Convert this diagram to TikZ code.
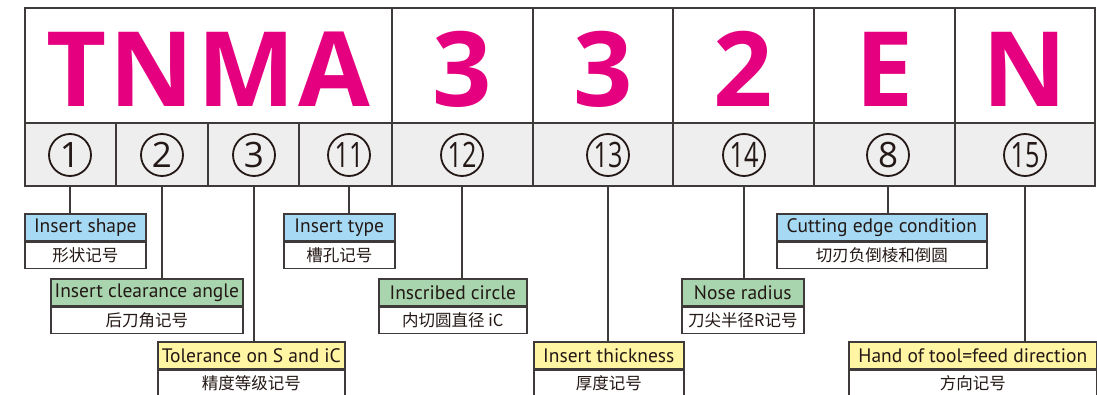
\documentclass[tikz,border=0pt]{standalone}
\usepackage{graphicx}
\usepackage{fontspec}
\usepackage{tikz}
\setmainfont{PT Sans}
\newfontfamily\codefont[LetterSpace=3]{Open Sans}
\newfontfamily\numfont{Open Sans}
\newfontfamily\cjk{Noto Sans CJK SC}
\usetikzlibrary{arrows.meta}

\definecolor{codepink}{RGB}{228,0,127}
\definecolor{cellgray}{RGB}{238,238,238}
\definecolor{linegray}{RGB}{62,58,57}
\definecolor{inkdark}{RGB}{35,24,21}
\definecolor{hdblue}{RGB}{166,218,244}
\definecolor{hdgreen}{RGB}{168,213,174}
\definecolor{hdyellow}{RGB}{255,245,163}

\begin{document}
\begin{tikzpicture}[x=1pt, y=-1pt,
    topcell/.style={draw=linegray, line width=1.7pt, minimum height=115pt, inner sep=0pt,
        text=codepink, font=\codefont\bfseries\fontsize{104}{104}\selectfont,
        text height=83pt, text depth=0pt},
    numcell/.style={draw=linegray, line width=1.7pt, fill=cellgray, minimum height=63pt, inner sep=0pt},
    numring/.style={circle, draw=inkdark, line width=1.8pt, minimum size=42pt, inner sep=0pt,
        text=inkdark, font=\numfont\fontsize{35}{35}\selectfont},
    head/.style={draw=linegray, line width=1.6pt, minimum height=27pt, inner sep=0pt,
        anchor=north west, text=inkdark, font=\fontsize{19.5}{19.5}\selectfont},
    body/.style={draw=linegray, line width=1.6pt, fill=white, minimum height=26pt, inner sep=0pt,
        anchor=north, text=inkdark, font=\cjk\fontsize{16.5}{16.5}\selectfont},
    wire/.style={draw=linegray, line width=1.3pt}]
    \useasboundingbox (0,0) rectangle (1097,395);

    % code letters
    \node[topcell, minimum width=367pt] (tnma) at (208.5,65.5) {TNMA};
    \node[topcell, minimum width=141pt] (l5) at (462.5,65.5) {3};
    \node[topcell, minimum width=140pt] (l6) at (603,65.5) {3};
    \node[topcell, minimum width=141pt] (l7) at (743.5,65.5) {2};
    \node[topcell, minimum width=141pt] (l8) at (884.5,65.5) {E};
    \node[topcell, minimum width=140pt] (l9) at (1025,65.5) {N};

    % number row
    \node[numcell, minimum width=91pt] (c1) at (70.5,154.5) {};
    \node[numcell, minimum width=92pt] (c2) at (162,154.5) {};
    \node[numcell, minimum width=91pt] (c3) at (253.5,154.5) {};
    \node[numcell, minimum width=93pt] (c4) at (345.5,154.5) {};
    \node[numcell, minimum width=141pt] (c5) at (462.5,154.5) {};
    \node[numcell, minimum width=140pt] (c6) at (603,154.5) {};
    \node[numcell, minimum width=141pt] (c7) at (743.5,154.5) {};
    \node[numcell, minimum width=141pt] (c8) at (884.5,154.5) {};
    \node[numcell, minimum width=140pt] (c9) at (1025,154.5) {};

    \node[numring] (n1) at (70,155) {1};
    \node[numring] (n2) at (162,155) {2};
    \node[numring] (n3) at (254,155) {3};
    \node[numring] (n4) at (349,155) {\scalebox{0.72}[1]{11}};
    \node[numring] (n5) at (462,155) {\scalebox{0.72}[1]{12}};
    \node[numring] (n6) at (608,155) {\scalebox{0.72}[1]{13}};
    \node[numring] (n7) at (744,155) {\scalebox{0.72}[1]{14}};
    \node[numring] (n8) at (888,155) {8};
    \node[numring] (n9) at (1025,155) {\scalebox{0.72}[1]{15}};

    % label boxes
    \node[head, fill=hdblue, minimum width=121pt] (shape) at (24,213) {Insert shape};
    \node[body, minimum width=121pt] (shapecn) at (shape.south) {形状记号};
    \node[head, fill=hdgreen, minimum width=192pt] (angle) at (50,278) {Insert clearance angle};
    \node[body, minimum width=192pt] (anglecn) at (angle.south) {后刀角记号};
    \node[head, fill=hdyellow, minimum width=187pt] (toler) at (157,341) {Tolerance on S and iC};
    \node[body, minimum width=187pt] (tolercn) at (toler.south) {精度等级记号};
    \node[head, fill=hdblue, minimum width=111pt] (type) at (283,213) {Insert type};
    \node[body, minimum width=111pt] (typecn) at (type.south) {槽孔记号};
    \node[head, fill=hdgreen, minimum width=148pt] (circ) at (378,278) {Inscribed circle};
    \node[body, minimum width=148pt] (circcn) at (circ.south) {内切圆直径 iC};
    \node[head, fill=hdyellow, minimum width=150pt] (thick) at (533,341) {Insert thickness};
    \node[body, minimum width=150pt] (thickcn) at (thick.south) {厚度记号};
    \node[head, fill=hdgreen, minimum width=122pt] (nose) at (681,278) {Nose radius};
    \node[body, minimum width=122pt] (nosecn) at (nose.south) {刀尖半径R记号};
    \node[head, fill=hdblue, minimum width=210pt] (edge) at (776,213) {Cutting edge condition};
    \node[body, minimum width=210pt] (edgecn) at (edge.south) {切刃负倒棱和倒圆};
    \node[head, fill=hdyellow, minimum width=248pt] (hand) at (848,341) {Hand of tool=feed direction};
    \node[body, minimum width=248pt] (handcn) at (hand.south) {方向记号};

    % connectors
    \draw[wire] (n1 |- c1.south) -- (n1 |- shape.north);
    \draw[wire] (n2 |- c2.south) -- (n2 |- angle.north);
    \draw[wire] (n3 |- c3.south) -- (n3 |- toler.north);
    \draw[wire] (n4 |- c4.south) -- (n4 |- type.north);
    \draw[wire] (n5 |- c5.south) -- (n5 |- circ.north);
    \draw[wire] (n6 |- c6.south) -- (n6 |- thick.north);
    \draw[wire] (n7 |- c7.south) -- (n7 |- nose.north);
    \draw[wire] (n8 |- c8.south) -- (n8 |- edge.north);
    \draw[wire] (n9 |- c9.south) -- (n9 |- hand.north);
\end{tikzpicture}
\end{document}
